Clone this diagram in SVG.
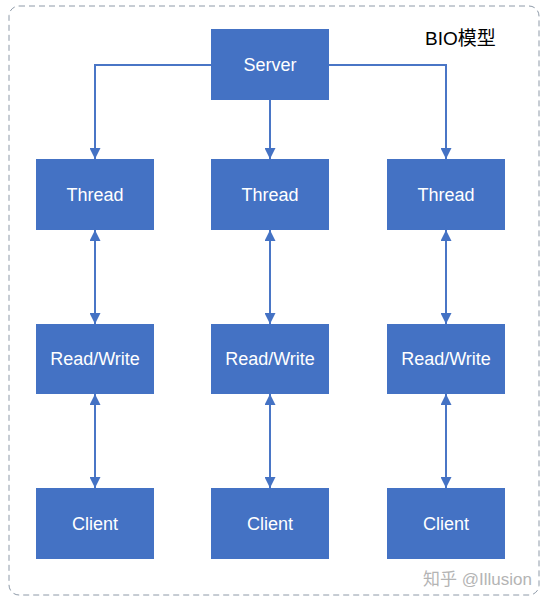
<svg xmlns="http://www.w3.org/2000/svg" width="549" height="603" viewBox="0 0 549 603">
<style>
.box{fill:#4472C4;}
.lbl{font-family:"Liberation Sans",Arial,sans-serif;font-size:18px;fill:#ffffff;text-anchor:middle;}
.ln{stroke:#4a76c6;stroke-width:2;fill:none;}
</style>
<defs>
<marker id="ah" viewBox="0 0 10 10" refX="10" refY="5" markerWidth="11" markerHeight="11" markerUnits="userSpaceOnUse" orient="auto-start-reverse">
<path d="M0,0 L10,5 L0,10 z" fill="#4472C4"/>
</marker>
</defs>
<rect width="549" height="603" fill="#ffffff"/>
<rect x="9" y="6" width="530" height="589" rx="10" ry="10" fill="none" stroke="#8e9aa8" stroke-width="1" stroke-dasharray="6,4"/>
<text x="425" y="45" font-family="'Liberation Sans','Noto Sans CJK SC',sans-serif" font-size="19" fill="#000000">BIO模型</text>
<g id="connectors">
<path class="ln" d="M211,65 H95 V159" marker-end="url(#ah)"/>
<path class="ln" d="M329,65 H446 V159" marker-end="url(#ah)"/>
<path class="ln" d="M270,100 V159" marker-end="url(#ah)"/>
<path class="ln" d="M95,230 V324" marker-start="url(#ah)" marker-end="url(#ah)"/>
<path class="ln" d="M270,230 V324" marker-start="url(#ah)" marker-end="url(#ah)"/>
<path class="ln" d="M446,230 V324" marker-start="url(#ah)" marker-end="url(#ah)"/>
<path class="ln" d="M95,394 V488" marker-start="url(#ah)" marker-end="url(#ah)"/>
<path class="ln" d="M270,394 V488" marker-start="url(#ah)" marker-end="url(#ah)"/>
<path class="ln" d="M446,394 V488" marker-start="url(#ah)" marker-end="url(#ah)"/>
</g>
<g id="server"><rect class="box" x="211" y="29" width="118" height="71"/><text class="lbl" x="270" y="71">Server</text></g>
<g id="thread1"><rect class="box" x="36" y="159" width="118" height="71"/><text class="lbl" x="95" y="201">Thread</text></g>
<g id="thread2"><rect class="box" x="211" y="159" width="118" height="71"/><text class="lbl" x="270" y="201">Thread</text></g>
<g id="thread3"><rect class="box" x="387" y="159" width="118" height="71"/><text class="lbl" x="446" y="201">Thread</text></g>
<g id="rw1"><rect class="box" x="36" y="324" width="118" height="70"/><text class="lbl" x="95" y="365">Read/Write</text></g>
<g id="rw2"><rect class="box" x="211" y="324" width="118" height="70"/><text class="lbl" x="270" y="365">Read/Write</text></g>
<g id="rw3"><rect class="box" x="387" y="324" width="118" height="70"/><text class="lbl" x="446" y="365">Read/Write</text></g>
<g id="client1"><rect class="box" x="36" y="488" width="118" height="71"/><text class="lbl" x="95" y="530">Client</text></g>
<g id="client2"><rect class="box" x="211" y="488" width="118" height="71"/><text class="lbl" x="270" y="530">Client</text></g>
<g id="client3"><rect class="box" x="387" y="488" width="118" height="71"/><text class="lbl" x="446" y="530">Client</text></g>
<text x="423" y="585" font-family="'Liberation Sans','Noto Sans CJK SC',sans-serif" font-size="17" fill="#b4b4b4">知乎 @Illusion</text>
</svg>
